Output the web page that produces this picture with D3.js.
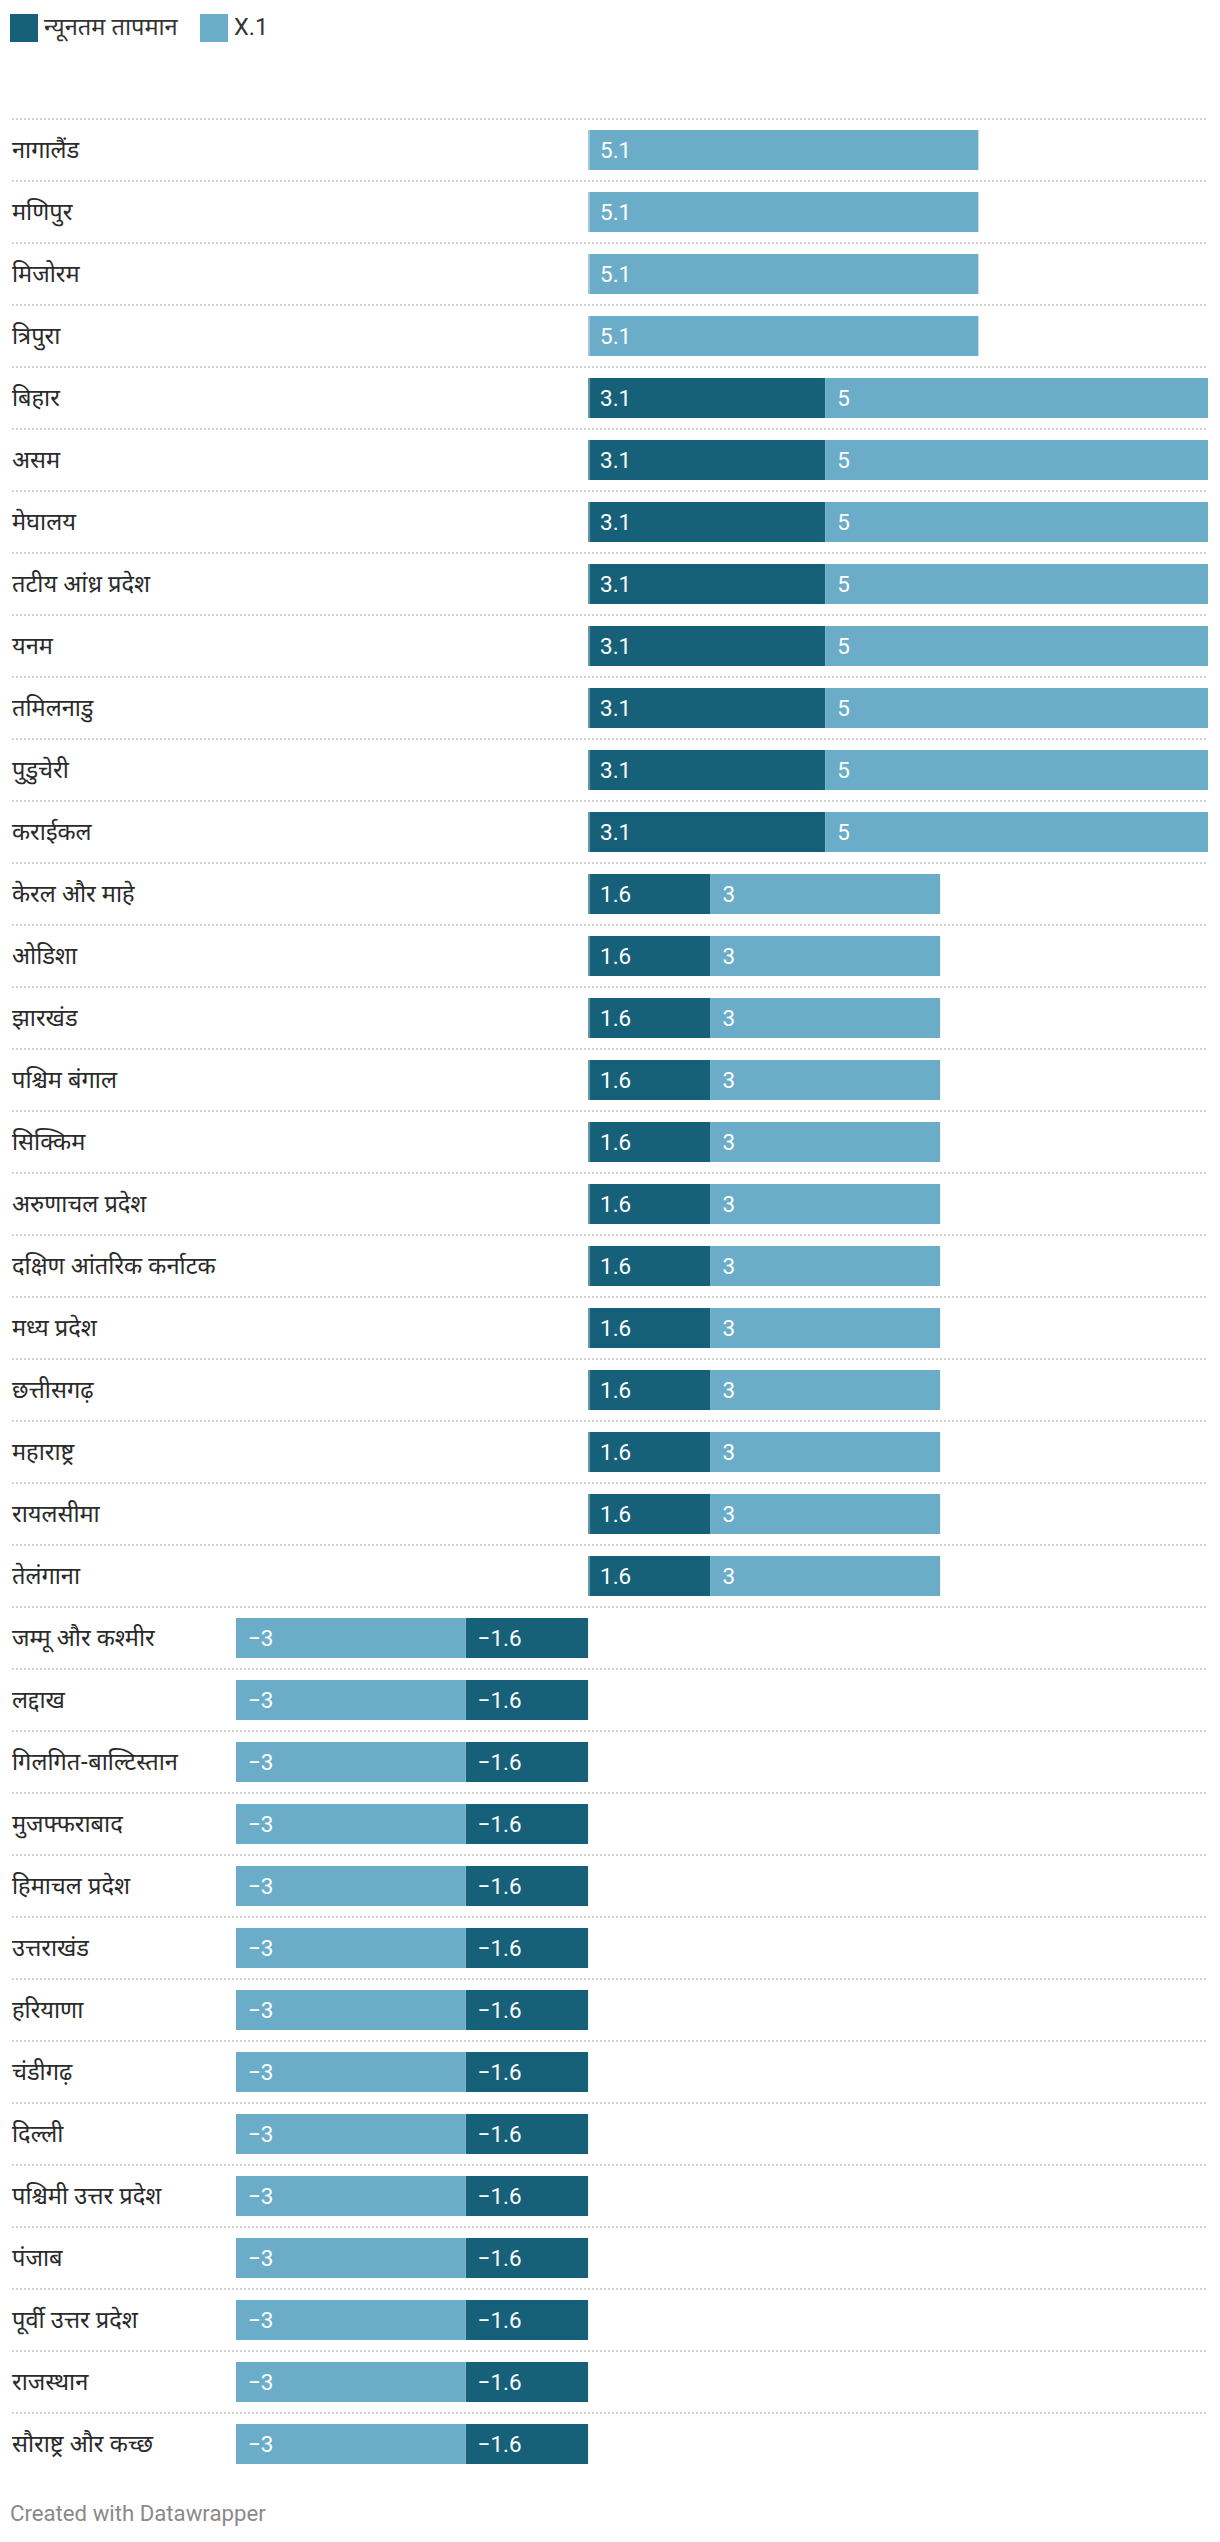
<!DOCTYPE html>
<html>
<head>
<meta charset="utf-8">
<script src="https://cdn.jsdelivr.net/npm/d3@7"></script>
<style>
  html, body { margin: 0; padding: 0; background: #fff; }
  svg { display: block; font-family: Roboto, "Noto Sans", sans-serif; }
  .lab { font-family: "Noto Sans Devanagari", "Lohit Devanagari", "Noto Sans", Roboto, sans-serif; }
</style>
</head>
<body>
<div id="chart"></div>
<script>
const categories = [
  "नागालैंड", "मणिपुर", "मिजोरम", "त्रिपुरा", "बिहार", "असम", "मेघालय",
  "तटीय आंध्र प्रदेश", "यनम", "तमिलनाडु", "पुडुचेरी", "कराईकल",
  "केरल और माहे", "ओडिशा", "झारखंड", "पश्चिम बंगाल", "सिक्किम",
  "अरुणाचल प्रदेश", "दक्षिण आंतरिक कर्नाटक", "मध्य प्रदेश", "छत्तीसगढ़",
  "महाराष्ट्र", "रायलसीमा", "तेलंगाना", "जम्मू और कश्मीर", "लद्दाख",
  "गिलगित-बाल्टिस्तान", "मुजफ्फराबाद", "हिमाचल प्रदेश", "उत्तराखंड",
  "हरियाणा", "चंडीगढ़", "दिल्ली", "पश्चिमी उत्तर प्रदेश", "पंजाब",
  "पूर्वी उत्तर प्रदेश", "राजस्थान", "सौराष्ट्र और कच्छ"
];
const minTemp = [
  null, null, null, null,
  3.1, 3.1, 3.1, 3.1, 3.1, 3.1, 3.1, 3.1,
  1.6, 1.6, 1.6, 1.6, 1.6, 1.6, 1.6, 1.6, 1.6, 1.6, 1.6, 1.6,
  -1.6, -1.6, -1.6, -1.6, -1.6, -1.6, -1.6, -1.6, -1.6, -1.6, -1.6, -1.6, -1.6, -1.6
];
const x1 = [
  5.1, 5.1, 5.1, 5.1,
  5, 5, 5, 5, 5, 5, 5, 5,
  3, 3, 3, 3, 3, 3, 3, 3, 3, 3, 3, 3,
  -3, -3, -3, -3, -3, -3, -3, -3, -3, -3, -3, -3, -3, -3
];
const seriesNames = ["न्यूनतम तापमान", "X.1"];
const colors = ["#17607a", "#6badc9"];
const footer = "Created with Datawrapper";

const W = 1220, H = 2542;
const svg = d3.select("#chart").append("svg").attr("width", W).attr("height", H);

const rows = categories.map((c, i) => {
  const a = minTemp[i] == null ? 0 : minTemp[i];
  const b = x1[i];
  return {
    cat: c,
    segs: [
      { s: 0, v: minTemp[i], x0: 0, x1: a },
      { s: 1, v: b, x0: a, x1: a + b }
    ]
  };
});

const lo = d3.min(rows, r => Math.min(0, r.segs[1].x1));
const hi = d3.max(rows, r => Math.max(0, r.segs[1].x1));
const x = d3.scaleLinear().domain([lo, hi]).range([236, 1208]);
const y = d3.scaleBand().domain(categories).range([119, 119 + 62 * categories.length]).padding(0);

// legend
const legX = [10, 200];
const leg = svg.append("g");
seriesNames.forEach((n, i) => {
  leg.append("rect").attr("x", legX[i]).attr("y", 14).attr("width", 28).attr("height", 28).attr("fill", colors[i]);
  leg.append("text").attr("x", legX[i] + 34).attr("y", 34.5)
    .attr("class", i === 0 ? "lab" : null)
    .attr("font-size", 23.6).attr("fill", "#333").text(n);
});

// dotted separators
svg.append("g").selectAll("line").data(categories).join("line")
  .attr("x1", 12).attr("x2", 1208)
  .attr("y1", d => y(d)).attr("y2", d => y(d))
  .attr("stroke", "#d2d2d2").attr("stroke-width", 2).attr("stroke-dasharray", "2,2");

// row labels
svg.append("g").selectAll("text").data(categories).join("text")
  .attr("class", "lab")
  .attr("x", 12).attr("y", d => y(d) + 31).attr("dy", "0.35em")
  .attr("font-size", 23.6).attr("fill", "#2a2a2a").text(d => d);

// bars
const g = svg.append("g").selectAll("g").data(rows).join("g")
  .attr("transform", r => `translate(0,${y(r.cat) + 11})`);

g.selectAll("rect.seg").data(r => r.segs.filter(s => s.v != null && s.v !== 0)).join("rect")
  .attr("class", "seg")
  .attr("x", s => x(Math.min(s.x0, s.x1)))
  .attr("width", s => Math.abs(x(s.x1) - x(s.x0)))
  .attr("y", 0).attr("height", 40)
  .attr("fill", s => colors[s.s]);

g.filter(r => r.segs[1].x1 > 0).append("rect")
  .attr("x", x(0)).attr("width", 2).attr("y", 0).attr("height", 40)
  .attr("fill", "#fff").attr("fill-opacity", 0.35);

g.selectAll("text.val").data(r => r.segs.filter(s => s.v != null && s.v !== 0)).join("text")
  .attr("class", "val")
  .attr("x", s => x(Math.min(s.x0, s.x1)) + 12)
  .attr("y", 20).attr("dy", "0.35em")
  .attr("font-size", 22.4).attr("fill", "#fff")
  .text(s => s.v < 0 ? "\u2212" + Math.abs(s.v) : String(s.v));

// footer
svg.append("text").attr("x", 10).attr("y", 2521)
  .attr("font-size", 22.2).attr("fill", "#8a8a8a").text(footer);
</script>
</body>
</html>
